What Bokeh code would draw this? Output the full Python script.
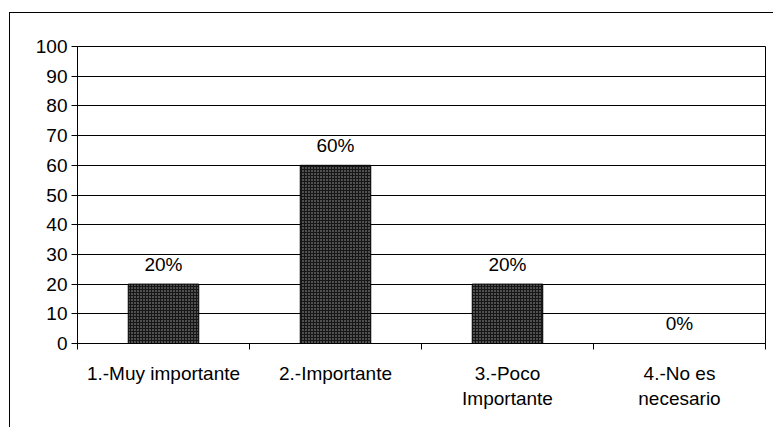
import numpy as np
from bokeh.plotting import figure
from bokeh.models import ColumnDataSource, Range1d, FixedTicker
from bokeh.core.properties import value
from bokeh.embed import file_html
from bokeh.resources import INLINE

categories = ["1.-Muy importante", "2.-Importante", "3.-Poco\nImportante", "4.-No es\nnecesario"]
values = [20, 60, 20, 0]
labels = ["20%", "60%", "20%", "0%"]
y_ticks = [0, 10, 20, 30, 40, 50, 60, 70, 80, 90, 100]

n = len(categories)
centers = np.arange(n) + 0.5
src = ColumnDataSource(dict(x=centers, top=values, lab=labels))

FONT = "Liberation Sans"
FS = "19px"

p = figure(width=764, height=415, output_backend="svg", toolbar_location=None,
           x_range=Range1d(0, n), y_range=Range1d(0, 100))
p.margin = (12, 0, 0, 9)
p.styles = {"border-left": "1px solid black", "border-top": "1px solid black"}
p.min_border_left = 67
p.min_border_top = 33
p.min_border_right = 9
p.min_border_bottom = 85
p.background_fill_color = "white"
p.border_fill_color = "white"
p.outline_line_color = "black"
p.outline_line_width = 1

p.vbar(x="x", top="top", width=0.41, bottom=0, source=src,
       fill_color="#161616", line_color="black", line_width=1,
       hatch_pattern="dot", hatch_color="#a8a8a8", hatch_scale=3, hatch_weight=1)

p.text(x="x", y="top", text="lab", source=src, text_font=value(FONT),
       text_font_size=FS, text_align="center", text_baseline="middle",
       y_offset=-20, text_color="black")

p.xgrid.visible = False
p.ygrid.ticker = FixedTicker(ticks=y_ticks)
p.ygrid.grid_line_color = "black"
p.ygrid.grid_line_width = 1

p.yaxis.ticker = FixedTicker(ticks=y_ticks)
p.yaxis.axis_line_color = "black"
p.yaxis.major_tick_out = 6
p.yaxis.major_tick_in = 0
p.yaxis.minor_tick_line_color = None
p.yaxis.major_label_standoff = 4
p.yaxis.major_label_text_font = FONT
p.yaxis.major_label_text_font_size = FS
p.yaxis.major_label_text_color = "black"

p.xaxis.ticker = FixedTicker(ticks=list(centers), minor_ticks=list(range(n + 1)))
p.xaxis.major_label_overrides = {float(c): cat for c, cat in zip(centers, categories)}
p.xaxis.major_tick_out = 0
p.xaxis.major_tick_in = 0
p.xaxis.minor_tick_out = 6
p.xaxis.minor_tick_in = 0
p.xaxis.minor_tick_line_color = "black"
p.xaxis.axis_line_color = "black"
p.xaxis.major_label_standoff = 13
p.xaxis.major_label_text_font = FONT
p.xaxis.major_label_text_font_size = FS
p.xaxis.major_label_text_color = "black"

open("out.html", "w").write(file_html(p, INLINE))
